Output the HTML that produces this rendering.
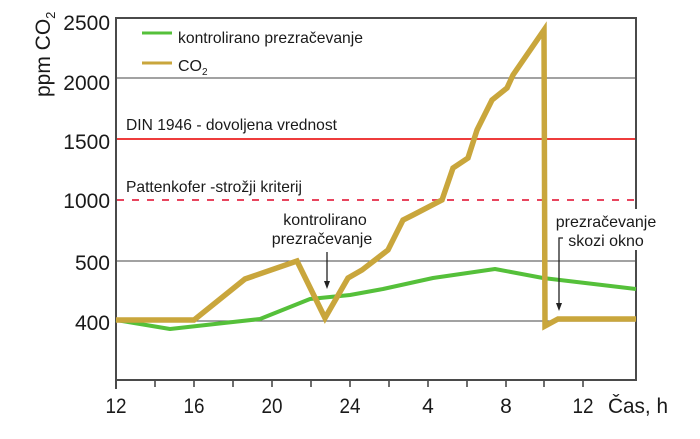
<!DOCTYPE html>
<html><head><meta charset="utf-8"><style>
html,body{margin:0;padding:0;background:#fff;}
svg{display:block;}
text{font-family:"Liberation Sans",Arial,sans-serif;fill:#1a1a1a;}
</style></head><body>
<svg width="700" height="439" viewBox="0 0 700 439" xmlns="http://www.w3.org/2000/svg">
<rect width="700" height="439" fill="#fff"/>
<!-- gridlines -->
<g stroke="#6a6a6a" stroke-width="1.3">
<line x1="116" y1="78" x2="636" y2="78"/>
<line x1="116" y1="261" x2="636" y2="261"/>
<line x1="116" y1="321" x2="636" y2="321"/>
</g>
<!-- limit lines -->
<line x1="116" y1="139" x2="636" y2="139" stroke="#ee3c3c" stroke-width="2"/>
<line x1="117" y1="200" x2="636" y2="200" stroke="#e8455e" stroke-width="2" stroke-dasharray="7 8"/>
<!-- frame -->
<g stroke="#4a4a4a" stroke-width="2" fill="none">
<line x1="116" y1="18" x2="636" y2="18"/>
<line x1="116" y1="17" x2="116" y2="389"/>
<line x1="636" y1="17" x2="636" y2="381"/>
<line x1="115" y1="380" x2="637" y2="380"/>
</g>
<g stroke="#4a4a4a" stroke-width="1.6">
<line x1="155" y1="380" x2="155" y2="387"/>
<line x1="194" y1="380" x2="194" y2="387"/>
<line x1="233" y1="380" x2="233" y2="387"/>
<line x1="272" y1="380" x2="272" y2="387"/>
<line x1="311" y1="380" x2="311" y2="387"/>
<line x1="350" y1="380" x2="350" y2="387"/>
<line x1="389" y1="380" x2="389" y2="387"/>
<line x1="428" y1="380" x2="428" y2="387"/>
<line x1="467" y1="380" x2="467" y2="387"/>
<line x1="506" y1="380" x2="506" y2="387"/>
<line x1="544" y1="380" x2="544" y2="387"/>
<line x1="583" y1="380" x2="583" y2="387"/>
</g>
<!-- series -->
<polyline fill="none" stroke="#55c03a" stroke-width="4" stroke-linejoin="round"
 points="116,320 170,329 233,322 260,319 310,299 350,295 383,289 433,278 495,269 543,278 636,289"/>
<polyline fill="none" stroke="#c9a63c" stroke-width="5.5" stroke-linejoin="miter" stroke-miterlimit="10"
 points="116,320 194,320 245,279 297,261 325,318 348,278 362,270 388,250 403,220 413,215 442,200 453,168 468,158 477,130 492,100 507,88 513,75 544,30 545,326 558,319 636,319"/>
<!-- y labels -->
<g font-size="21" text-anchor="end">
<text x="110" y="30">2500</text>
<text x="110" y="90">2000</text>
<text x="110" y="149">1500</text>
<text x="110" y="208">1000</text>
<text x="110" y="270">500</text>
<text x="110" y="330">400</text>
</g>
<text font-size="21" transform="translate(50,97) rotate(-90)">ppm CO<tspan font-size="13" dy="5">2</tspan></text>
<!-- x labels -->
<g font-size="21" text-anchor="middle">
<text x="116" y="413" textLength="21" lengthAdjust="spacingAndGlyphs">12</text>
<text x="194" y="413" textLength="21" lengthAdjust="spacingAndGlyphs">16</text>
<text x="272" y="413" textLength="21" lengthAdjust="spacingAndGlyphs">20</text>
<text x="350" y="413" textLength="21" lengthAdjust="spacingAndGlyphs">24</text>
<text x="428" y="413">4</text>
<text x="506" y="413">8</text>
<text x="583" y="413" textLength="21" lengthAdjust="spacingAndGlyphs">12</text>
</g>
<text x="608" y="413" font-size="21" textLength="60" lengthAdjust="spacingAndGlyphs">Čas, h</text>
<!-- legend -->
<line x1="142" y1="33" x2="172" y2="33" stroke="#55c03a" stroke-width="3"/>
<line x1="142" y1="63" x2="172" y2="63" stroke="#c9a63c" stroke-width="3"/>
<text x="178" y="43" font-size="16" textLength="185" lengthAdjust="spacingAndGlyphs">kontrolirano prezračevanje</text>
<text x="178" y="71" font-size="16">CO<tspan font-size="10" dy="4">2</tspan></text>
<!-- limit labels -->
<text x="126" y="130" font-size="16" textLength="211" lengthAdjust="spacingAndGlyphs">DIN 1946 - dovoljena vrednost</text>
<text x="126" y="192" font-size="16" textLength="176" lengthAdjust="spacingAndGlyphs">Pattenkofer -strožji kriterij</text>
<!-- annotation left -->
<text x="325" y="225" font-size="16" text-anchor="middle">kontrolirano</text>
<text x="322" y="244" font-size="16" text-anchor="middle">prezračevanje</text>
<line x1="327" y1="252" x2="327" y2="282" stroke="#222" stroke-width="1.3"/>
<polygon points="324,281 330,281 327,289" fill="#222"/>
<!-- annotation right -->
<rect x="550" y="209" width="110" height="41" fill="#fff"/>
<text x="606" y="227" font-size="16" text-anchor="middle">prezračevanje</text>
<text x="606" y="246" font-size="16" text-anchor="middle">skozi okno</text>
<polyline points="563,238 559,238 559,304" fill="none" stroke="#222" stroke-width="1.3"/>
<polygon points="556,303 562,303 559,311" fill="#222"/>
</svg>
</body></html>
